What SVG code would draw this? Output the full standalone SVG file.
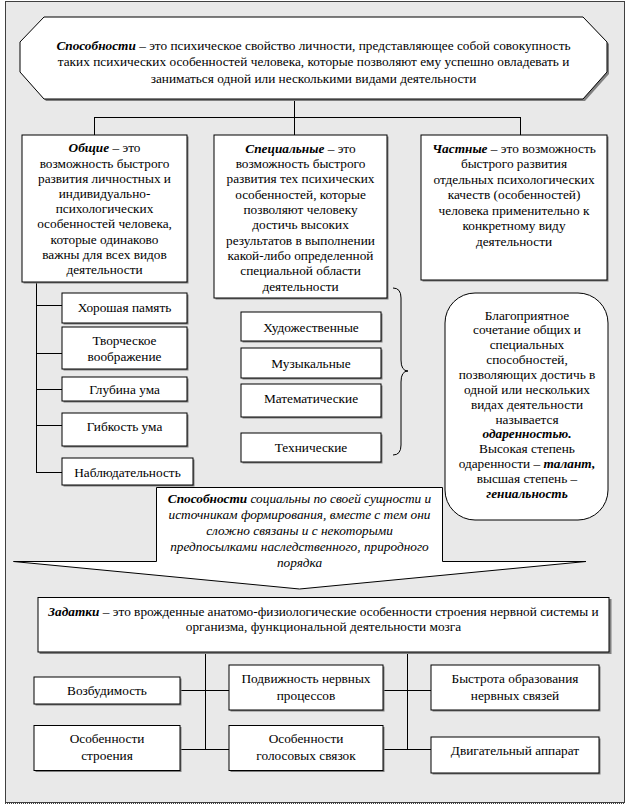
<svg xmlns="http://www.w3.org/2000/svg" width="629" height="806" viewBox="0 0 629 806" font-family="'Liberation Serif', 'DejaVu Serif', 'Times New Roman', Tinos, 'Noto Serif', serif">
<style>
.t{font-size:13.3px;fill:#000;text-anchor:middle}
.bi{font-weight:bold;font-style:italic}
.it{font-style:italic}
.box{fill:#fff;stroke:#000;stroke-width:1}
.sh{fill:#808080}
.ln{stroke:#000;stroke-width:1;fill:none}
</style>
<rect x="0" y="0" width="629" height="806" fill="#fff"/>
<rect x="5.5" y="1.5" width="619" height="801" fill="#e9e9e9" stroke="#404040" stroke-width="1"/>
<line x1="5" y1="803" x2="625" y2="803" stroke="#404040" stroke-width="2" stroke-dasharray="1,1"/>

<g id="connectors">
<path class="ln" d="M294.5,99 V135 M94.5,117.5 H520.5 M94.5,117 V135 M520.5,117 V135"/>
<path class="ln" d="M36.5,282 V472.5 M36,305.5 H62 M36,353.5 H62 M36,389.5 H62 M36,425.5 H62 M36,472.5 H62"/>
<path class="ln" d="M393,288 Q401,288 401,298 L401,360 Q401,371 408,371 Q401,371 401,382 L401,445 Q401,455 393,455"/>
<path class="ln" d="M205.5,652 V749.5 M407.5,652 V749.5 M180,690.5 H229 M383,690.5 H431 M180,749.5 H229 M383,749.5 H431"/>
</g>

<g id="n-sposobnosti">
<polygon points="46,19 585,19 609,44 609,74 585,101 46,101 22,74 22,44" class="sh"/>
<polygon points="44,17 583,17 607,42 607,72 583,99 44,99 20,72 20,42" class="box"/>
<text class="t" x="313.5" y="49.5"><tspan class="bi">Способности</tspan> – это психическое свойство личности, представляющее собой совокупность</text>
<text class="t" x="313.5" y="66">таких психических особенностей человека, которые позволяют ему успешно овладевать и</text>
<text class="t" x="313.5" y="82.5">заниматься одной или несколькими видами деятельности</text>
</g>

<g id="n-obshie">
<rect x="23.5" y="136.5" width="165" height="147" class="sh"/>
<rect x="22" y="135" width="165" height="147" class="box"/>
<text class="t" x="104.5" y="152.3"><tspan class="bi">Общие</tspan> – это</text>
<text class="t" x="104.5" y="167.5">возможность быстрого</text>
<text class="t" x="104.5" y="182.7">развития личностных и</text>
<text class="t" x="104.5" y="197.9">индивидуально-</text>
<text class="t" x="104.5" y="213.1">психологических</text>
<text class="t" x="104.5" y="228.3">особенностей человека,</text>
<text class="t" x="104.5" y="243.5">которые одинаково</text>
<text class="t" x="104.5" y="258.7">важны для всех видов</text>
<text class="t" x="104.5" y="273.9">деятельности</text>
</g>

<g id="n-specialnye">
<rect x="215.5" y="136.5" width="173" height="163" class="sh"/>
<rect x="214" y="135" width="173" height="163" class="box"/>
<text class="t" x="300.5" y="152.8"><tspan class="bi">Специальные</tspan> – это</text>
<text class="t" x="300.5" y="168.1">возможность быстрого</text>
<text class="t" x="300.5" y="183.4">развития тех психических</text>
<text class="t" x="300.5" y="198.7">особенностей, которые</text>
<text class="t" x="300.5" y="214">позволяют человеку</text>
<text class="t" x="300.5" y="229.3">достичь высоких</text>
<text class="t" x="300.5" y="244.6">результатов в выполнении</text>
<text class="t" x="300.5" y="259.9">какой-либо определенной</text>
<text class="t" x="300.5" y="275.2">специальной области</text>
<text class="t" x="300.5" y="290.5">деятельности</text>
</g>

<g id="n-chastnye">
<rect x="422.5" y="136.5" width="186" height="145" class="sh"/>
<rect x="421" y="135" width="186" height="145" class="box"/>
<text class="t" x="514" y="152.8"><tspan class="bi">Частные</tspan> – это возможность</text>
<text class="t" x="514" y="168.3">быстрого развития</text>
<text class="t" x="514" y="183.8">отдельных психологических</text>
<text class="t" x="514" y="199.3">качеств (особенностей)</text>
<text class="t" x="514" y="214.8">человека применительно к</text>
<text class="t" x="514" y="230.3">конкретному виду</text>
<text class="t" x="514" y="245.8">деятельности</text>
</g>

<g id="n-pamyat">
<rect x="63.5" y="294.5" width="125" height="30" class="sh"/>
<rect x="62" y="293" width="125" height="30" class="box"/>
<text class="t" x="124.5" y="311.5">Хорошая память</text>
</g>
<g id="n-voobrazhenie">
<rect x="63.5" y="328.5" width="125" height="42" class="sh"/>
<rect x="62" y="327" width="125" height="42" class="box"/>
<text class="t" x="124.5" y="344.5">Творческое</text>
<text class="t" x="124.5" y="360.5">воображение</text>
</g>
<g id="n-glubina">
<rect x="63.5" y="378.5" width="125" height="24" class="sh"/>
<rect x="62" y="377" width="125" height="24" class="box"/>
<text class="t" x="124.5" y="393.5">Глубина ума</text>
</g>
<g id="n-gibkost">
<rect x="63.5" y="414.5" width="125" height="33" class="sh"/>
<rect x="62" y="413" width="125" height="33" class="box"/>
<text class="t" x="124.5" y="431">Гибкость ума</text>
</g>
<g id="n-nablyud">
<rect x="63.5" y="459.5" width="131" height="27" class="sh"/>
<rect x="62" y="458" width="131" height="27" class="box"/>
<text class="t" x="127.5" y="476.5">Наблюдательность</text>
</g>

<g id="n-hudozh">
<rect x="242.5" y="313.5" width="140" height="29" class="sh"/>
<rect x="241" y="312" width="140" height="29" class="box"/>
<text class="t" x="311" y="331.5">Художественные</text>
</g>
<g id="n-muz">
<rect x="242.5" y="349.5" width="140" height="30" class="sh"/>
<rect x="241" y="348" width="140" height="30" class="box"/>
<text class="t" x="311" y="367.5">Музыкальные</text>
</g>
<g id="n-matem">
<rect x="242.5" y="385.5" width="140" height="33" class="sh"/>
<rect x="241" y="384" width="140" height="33" class="box"/>
<text class="t" x="311" y="402.5">Математические</text>
</g>
<g id="n-tehn">
<rect x="242.5" y="434.5" width="140" height="29" class="sh"/>
<rect x="241" y="433" width="140" height="29" class="box"/>
<text class="t" x="311" y="451.5">Технические</text>
</g>

<g id="n-odarennost">
<rect x="445" y="293" width="163" height="227" rx="30" ry="30" class="box"/>
<text class="t" x="527" y="319.5">Благоприятное</text>
<text class="t" x="527" y="334.4">сочетание общих и</text>
<text class="t" x="527" y="349.2">специальных</text>
<text class="t" x="527" y="364.1">способностей,</text>
<text class="t" x="527" y="378.9">позволяющих достичь в</text>
<text class="t" x="527" y="393.8">одной или нескольких</text>
<text class="t" x="527" y="408.6">видах деятельности</text>
<text class="t" x="527" y="423.5">называется</text>
<text class="t bi" x="527" y="438.3">одаренностью.</text>
<text class="t" x="527" y="453.2">Высокая степень</text>
<text class="t" x="527" y="468">одаренности – <tspan class="bi">талант,</tspan></text>
<text class="t" x="527" y="482.9">высшая степень –</text>
<text class="t bi" x="527" y="497.7">гениальность</text>
</g>

<g id="n-socialny">
<polygon points="156.5,487.5 442.5,487.5 442.5,561.5 586,561.5 299.5,589 13.5,561.5 156.5,561.5" class="box"/>
<text class="t it" x="299.5" y="502.5"><tspan class="bi">Способности</tspan> социальны по своей сущности и</text>
<text class="t it" x="299.5" y="518.5">источникам формирования, вместе с тем они</text>
<text class="t it" x="299.5" y="534.5">сложно связаны и с некоторыми</text>
<text class="t it" x="299.5" y="550.5">предпосылками наследственного, природного</text>
<text class="t it" x="299.5" y="566.5">порядка</text>
</g>

<g id="n-zadatki">
<rect x="39.5" y="599" width="572" height="55" class="sh"/>
<rect x="38" y="597.5" width="571" height="54.5" class="box"/>
<text class="t" x="323.5" y="616"><tspan class="bi">Задатки</tspan> – это врожденные анатомо-физиологические особенности строения нервной системы и</text>
<text class="t" x="323.5" y="631">организма, функциональной деятельности мозга</text>
</g>

<g id="n-vozbud">
<rect x="35.5" y="678.5" width="146" height="27" class="sh"/>
<rect x="34" y="677" width="146" height="27" class="box"/>
<text class="t" x="107" y="695">Возбудимость</text>
</g>
<g id="n-podvizh">
<rect x="230.5" y="666.5" width="154" height="45" class="sh"/>
<rect x="229" y="665" width="154" height="45" class="box"/>
<text class="t" x="306" y="682.8">Подвижность нервных</text>
<text class="t" x="306" y="699.5">процессов</text>
</g>
<g id="n-bystrota">
<rect x="432.5" y="666.5" width="168" height="45" class="sh"/>
<rect x="431" y="665" width="168" height="45" class="box"/>
<text class="t" x="515" y="682.8">Быстрота образования</text>
<text class="t" x="515" y="699.5">нервных связей</text>
</g>
<g id="n-stroenie">
<rect x="35.5" y="727" width="146" height="45" class="sh"/>
<rect x="34" y="725.5" width="146" height="45" class="box"/>
<text class="t" x="107" y="742.8">Особенности</text>
<text class="t" x="107" y="759.5">строения</text>
</g>
<g id="n-golos">
<rect x="230.5" y="727" width="154" height="45" class="sh"/>
<rect x="229" y="725.5" width="154" height="45" class="box"/>
<text class="t" x="306" y="742.8">Особенности</text>
<text class="t" x="306" y="759.5">голосовых связок</text>
</g>
<g id="n-dvigat">
<rect x="432.5" y="738.5" width="168" height="36" class="sh"/>
<rect x="431" y="737" width="168" height="36" class="box"/>
<text class="t" x="515" y="754.5">Двигательный аппарат</text>
</g>
</svg>
